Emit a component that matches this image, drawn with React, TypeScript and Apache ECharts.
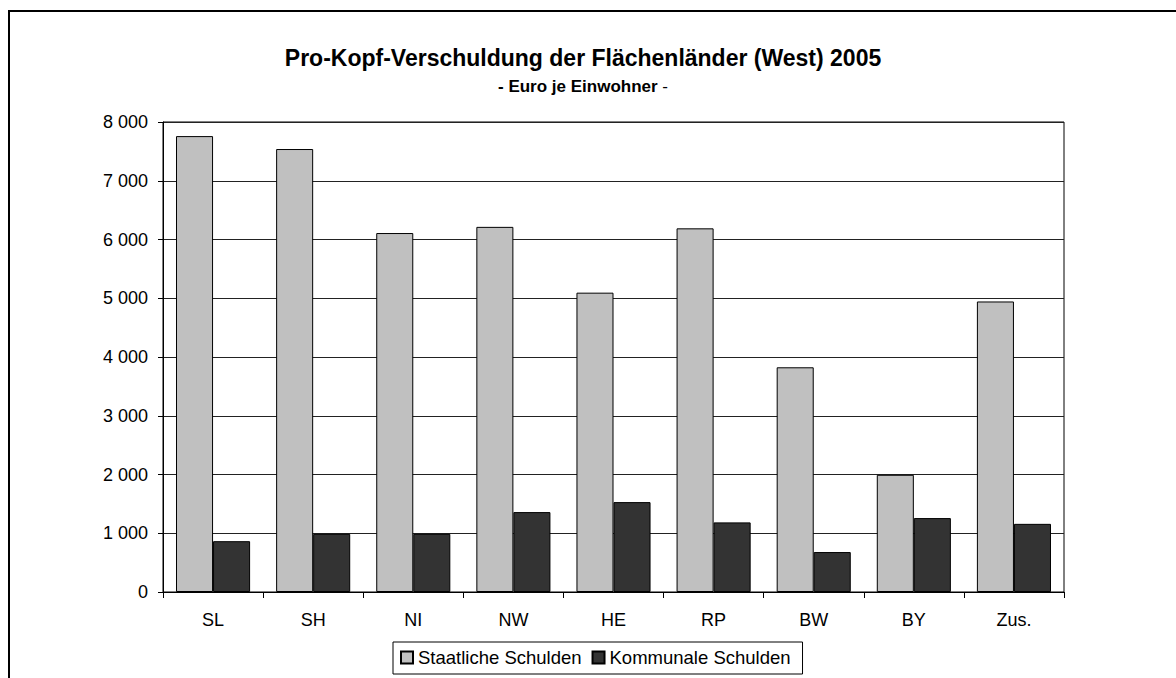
import React, { useEffect, useRef } from "react";
import * as echarts from "echarts";

const categories = ["SL", "SH", "NI", "NW", "HE", "RP", "BW", "BY", "Zus."];
const staatlicheSchulden = [7760, 7540, 6110, 6215, 5095, 6190, 3825, 1995, 4945];
const kommunaleSchulden = [865, 990, 990, 1360, 1530, 1185, 680, 1258, 1160];
const yTicks = { min: 0, max: 8000, interval: 1000 };

const FONT = "'Liberation Sans', Arial, sans-serif";

export default function App() {
  const ref = useRef<HTMLDivElement>(null);
  useEffect(() => {
    if (!ref.current) return;
    const chart = echarts.init(ref.current, undefined, { renderer: "svg" });
    chart.setOption({
      animation: false,
      backgroundColor: "#ffffff",
      textStyle: { fontFamily: FONT },
      title: [
        {
          text: "Pro-Kopf-Verschuldung der Flächenländer (West) 2005",
          left: 583,
          top: 46,
          textAlign: "center",
          padding: 0,
          textStyle: { fontFamily: FONT, fontSize: 23, fontWeight: "bold", color: "#000" },
        },
        {
          text: "{b|- Euro je Einwohner} {n|-}",
          left: 583,
          top: 78,
          textAlign: "center",
          padding: 0,
          textStyle: {
            fontFamily: FONT,
            fontSize: 17,
            color: "#000",
            rich: {
              b: { fontFamily: FONT, fontSize: 17, fontWeight: "bold", color: "#000" },
              n: { fontFamily: FONT, fontSize: 17, fontWeight: "normal", color: "#000" },
            },
          },
        },
      ],
      graphic: [
        {
          type: "rect",
          shape: { x: 9, y: 11, width: 1200, height: 700 },
          style: { fill: "none", stroke: "#000", lineWidth: 2 },
          silent: true,
          z: 100,
        },
      ],
      legend: {
        left: 393,
        top: 642,
        orient: "horizontal",
        padding: [6, 12, 7, 7],
        itemGap: 10,
        itemWidth: 12,
        itemHeight: 12,
        borderColor: "#000",
        borderWidth: 1,
        backgroundColor: "#fff",
        icon: "rect",
        textStyle: { fontFamily: FONT, fontSize: 18.5, color: "#000" },
        data: ["Staatliche Schulden", "Kommunale Schulden"],
      },
      grid: {
        left: 163,
        top: 122,
        right: 112,
        height: 470,
        show: true,
        borderColor: "#000",
        borderWidth: 1,
        backgroundColor: "#fff",
        containLabel: false,
      },
      xAxis: {
        type: "category",
        data: categories,
        axisLine: { show: true, lineStyle: { color: "#000", width: 1 } },
        axisTick: { show: true, length: 6, lineStyle: { color: "#000" } },
        axisLabel: { color: "#000", fontFamily: FONT, fontSize: 18, margin: 19 },
      },
      yAxis: {
        type: "value",
        min: yTicks.min,
        max: yTicks.max,
        interval: yTicks.interval,
        axisLine: { show: true, lineStyle: { color: "#000", width: 1 } },
        axisTick: { show: true, length: 5, lineStyle: { color: "#000" } },
        axisLabel: {
          color: "#000",
          fontFamily: FONT,
          fontSize: 18,
          margin: 15,
          formatter: (v: number) => String(v).replace(/\B(?=(\d{3})+(?!\d))/g, " "),
        },
        splitLine: { show: true, lineStyle: { color: "#222", width: 1 } },
      },
      series: [
        {
          name: "Staatliche Schulden",
          type: "bar",
          data: staatlicheSchulden,
          barGap: "0%",
          barCategoryGap: "26%",
          itemStyle: { color: "#C0C0C0", borderColor: "#000", borderWidth: 1 },
        },
        {
          name: "Kommunale Schulden",
          type: "bar",
          data: kommunaleSchulden,
          barGap: "0%",
          barCategoryGap: "26%",
          itemStyle: { color: "#333333", borderColor: "#000", borderWidth: 1 },
        },
      ],
    });
    return () => chart.dispose();
  }, []);
  return (
    <div
      ref={ref}
      style={{ position: "absolute", left: 0, top: 0, width: 1176, height: 678 }}
    />
  );
}
